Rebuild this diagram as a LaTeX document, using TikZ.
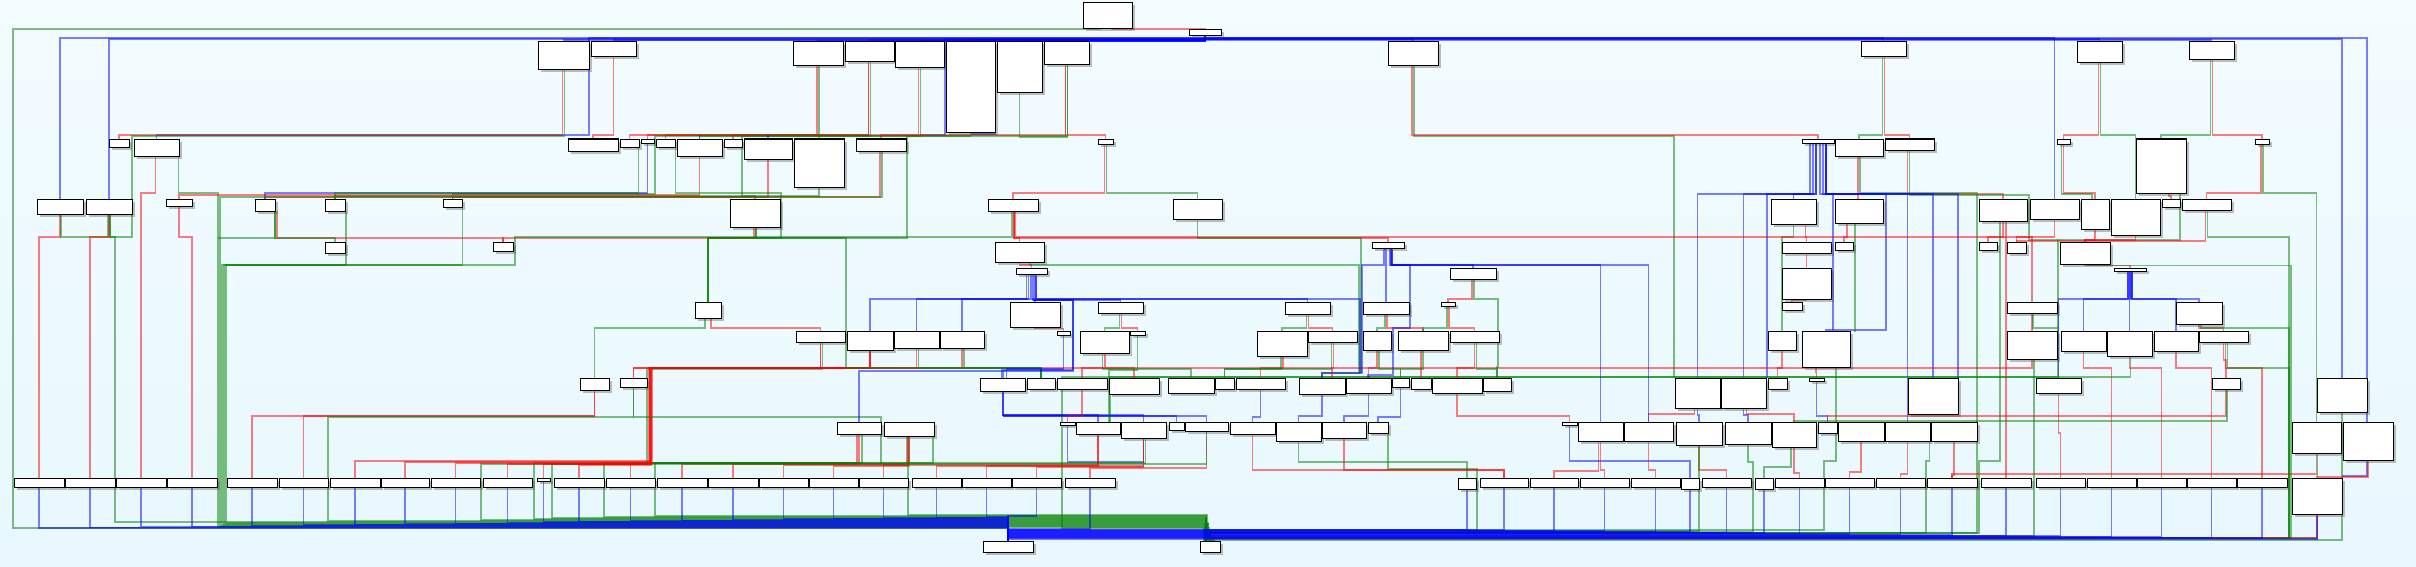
\documentclass[tikz,border=0pt]{standalone}
\usetikzlibrary{shadows}
\pgfdeclarelayer{back}
\pgfdeclarelayer{wires}
\pgfsetlayers{back,wires,main}
\definecolor{bgtop}{RGB}{243,252,255}
\definecolor{bgbot}{RGB}{232,248,254}
\definecolor{gr}{RGB}{0,128,0}
\tikzset{
 wire/.style={line width=1.3pt, draw opacity=0.5},
 rd/.style={wire, draw=red},
 gn/.style={wire, draw=gr},
 bl/.style={wire, draw=blue},
 bxs/.style={draw=black, line width=1pt, fill=white, inner sep=0pt, outer sep=0pt,
   drop shadow={shadow xshift=2.5pt, shadow yshift=-2.5pt, opacity=0.35, fill=black!70}}
}
\newcommand\bx[5]{%
 \pgfmathsetmacro\bxw{#4-#2}\pgfmathsetmacro\bxh{#5-#3}%
 \pgfmathsetmacro\bxx{(#2+#4)/2}\pgfmathsetmacro\bxy{(#3+#5)/2}%
 \node[bxs, minimum width=\bxw pt, minimum height=\bxh pt] (#1) at (\bxx,\bxy) {};}
\begin{document}
\begin{tikzpicture}[x=1pt,y=-1pt]
\useasboundingbox (0,0) rectangle (2416,567);
\begin{pgfonlayer}{back}
\shade[top color=bgtop, bottom color=bgbot] (0,0) rectangle (2416,567);
\end{pgfonlayer}
% ---------- boxes ----------
\bx{A0}{1083}{3}{1132}{29}
\bx{A1}{1189}{30}{1221}{36}
\bx{r1a}{538}{42}{589}{70}
\bx{r1b}{591}{42}{636}{57}
\bx{r1c}{793}{42}{843}{66}
\bx{r1d}{845}{42}{894}{62}
\bx{r1e}{895}{42}{944}{68}
\bx{r1f}{946}{42}{995}{133}
\bx{r1g}{997}{42}{1042}{93}
\bx{r1h}{1044}{42}{1089}{65}
\bx{r1i}{1388}{42}{1438}{66}
\bx{r1j}{1861}{42}{1906}{57}
\bx{r1k}{2077}{42}{2122}{63}
\bx{r1l}{2189}{42}{2234}{60}
\bx{r2a}{109}{139}{129}{147}
\bx{r2b}{134}{139}{179}{156}
\bx{r2c}{568}{139}{618}{151}
\bx{r2d}{620}{139}{639}{147}
\bx{r2e}{641}{139}{654}{143}
\bx{r2f}{656}{139}{675}{147}
\bx{r2g}{677}{139}{722}{156}
\bx{r2h}{724}{139}{742}{147}
\bx{r2i}{744}{139}{792}{159}
\bx{r2j}{794}{139}{844}{187}
\bx{r2k}{856}{139}{906}{151}
\bx{r2l}{1098}{139}{1113}{144}
\bx{r2m}{1802}{139}{1834}{143}
\bx{r2n}{1835}{139}{1883}{156}
\bx{r2o}{1885}{139}{1934}{150}
\bx{r2p}{2057}{139}{2070}{144}
\bx{r2q}{2136}{139}{2186}{193}
\bx{r2r}{2255}{139}{2269}{144}
\bx{r3a}{37}{199}{83}{214}
\bx{r3b}{86}{199}{132}{214}
\bx{r3c}{166}{199}{192}{206}
\bx{r3d}{255}{199}{275}{211}
\bx{r3e}{325}{199}{345}{211}
\bx{r3f}{443}{199}{462}{207}
\bx{r3g}{730}{199}{780}{227}
\bx{r3h}{988}{199}{1038}{211}
\bx{r3i}{1173}{199}{1222}{219}
\bx{r3j}{1771}{199}{1816}{224}
\bx{r3k}{1835}{199}{1883}{223}
\bx{r3l}{1979}{199}{2027}{221}
\bx{r3m}{2030}{199}{2079}{219}
\bx{r3n}{2081}{199}{2109}{229}
\bx{r3o}{2111}{199}{2160}{235}
\bx{r3p}{2162}{199}{2180}{207}
\bx{r3q}{2182}{199}{2231}{210}
\bx{r4a}{325}{242}{345}{253}
\bx{r4b}{493}{242}{513}{251}
\bx{r4c}{995}{242}{1044}{262}
\bx{r4d}{1372}{242}{1404}{248}
\bx{r4e}{1782}{242}{1831}{253}
\bx{r4f}{1835}{242}{1853}{250}
\bx{r4g}{1979}{242}{1997}{250}
\bx{r4h}{2007}{242}{2026}{253}
\bx{r4i}{2060}{242}{2110}{264}
\bx{r5a}{1016}{268}{1047}{274}
\bx{r5b}{1450}{268}{1496}{279}
\bx{r5c}{1782}{268}{1831}{299}
\bx{r5d}{2114}{268}{2146}{271}
\bx{r6a}{695}{302}{721}{318}
\bx{r6b}{1010}{302}{1060}{327}
\bx{r6c}{1098}{302}{1143}{313}
\bx{r6d}{1285}{302}{1330}{314}
\bx{r6e}{1363}{302}{1409}{314}
\bx{r6f}{1441}{302}{1455}{306}
\bx{r6g}{1782}{302}{1802}{310}
\bx{r6h}{2007}{302}{2057}{313}
\bx{r6i}{2176}{302}{2222}{324}
\bx{r7a}{796}{331}{845}{342}
\bx{r7b}{847}{331}{893}{350}
\bx{r7c}{894}{331}{939}{348}
\bx{r7d}{940}{331}{984}{348}
\bx{r7e}{1057}{331}{1070}{335}
\bx{r7f}{1080}{331}{1129}{353}
\bx{r7g}{1130}{331}{1145}{335}
\bx{r7h}{1257}{331}{1307}{356}
\bx{r7i}{1308}{331}{1357}{342}
\bx{r7j}{1363}{331}{1391}{350}
\bx{r7k}{1398}{331}{1448}{350}
\bx{r7l}{1450}{331}{1499}{342}
\bx{r7m}{1768}{331}{1796}{350}
\bx{r7n}{1802}{331}{1850}{367}
\bx{r7o}{2007}{331}{2057}{359}
\bx{r7p}{2061}{331}{2106}{351}
\bx{r7q}{2107}{331}{2152}{356}
\bx{r7r}{2154}{331}{2198}{351}
\bx{r7s}{2199}{331}{2248}{342}
\bx{r8a}{580}{378}{609}{390}
\bx{r8b}{620}{378}{647}{387}
\bx{r8c}{980}{378}{1025}{391}
\bx{r8d}{1027}{378}{1055}{389}
\bx{r8e}{1057}{378}{1107}{389}
\bx{r8f}{1109}{378}{1159}{394}
\bx{r8g}{1168}{378}{1214}{393}
\bx{r8h}{1215}{378}{1234}{389}
\bx{r8i}{1236}{378}{1285}{389}
\bx{r8j}{1299}{378}{1345}{394}
\bx{r8k}{1346}{378}{1391}{393}
\bx{r8l}{1392}{378}{1409}{387}
\bx{r8m}{1411}{378}{1431}{389}
\bx{r8n}{1432}{378}{1482}{393}
\bx{r8o}{1483}{378}{1511}{391}
\bx{r8p}{1675}{378}{1720}{408}
\bx{r8q}{1721}{378}{1766}{408}
\bx{r8r}{1768}{378}{1787}{389}
\bx{r8s}{1809}{378}{1824}{381}
\bx{r8t}{1908}{378}{1958}{414}
\bx{r8u}{2036}{378}{2081}{393}
\bx{r8v}{2212}{378}{2240}{389}
\bx{r8w}{2317}{378}{2367}{412}
\bx{r9a}{837}{422}{881}{434}
\bx{r9b}{884}{422}{934}{436}
\bx{r9c}{1060}{422}{1075}{425}
\bx{r9d}{1076}{422}{1120}{434}
\bx{r9e}{1121}{422}{1166}{438}
\bx{r9f}{1169}{422}{1184}{430}
\bx{r9g}{1185}{422}{1228}{431}
\bx{r9h}{1230}{422}{1275}{434}
\bx{r9i}{1276}{422}{1321}{441}
\bx{r9j}{1322}{422}{1366}{438}
\bx{r9k}{1368}{422}{1388}{433}
\bx{r9l}{1562}{422}{1577}{425}
\bx{r9m}{1578}{422}{1623}{441}
\bx{r9n}{1624}{422}{1673}{441}
\bx{r9o}{1676}{422}{1722}{445}
\bx{r9p}{1725}{422}{1771}{444}
\bx{r9q}{1772}{422}{1816}{447}
\bx{r9r}{1818}{422}{1837}{433}
\bx{r9s}{1838}{422}{1884}{441}
\bx{r9t}{1885}{422}{1930}{441}
\bx{r9u}{1931}{422}{1977}{441}
\bx{r9v}{2292}{422}{2341}{453}
\bx{r9w}{2343}{422}{2393}{460}
\bx{p1}{14}{478}{64}{487}
\bx{p2}{65}{478}{115}{487}
\bx{p3}{116}{478}{166}{487}
\bx{p4}{167}{478}{217}{487}
\bx{p5}{227}{478}{277}{487}
\bx{p6}{279}{478}{328}{487}
\bx{p7}{330}{478}{380}{487}
\bx{p8}{381}{478}{429}{487}
\bx{p9}{431}{478}{480}{487}
\bx{p10}{483}{478}{532}{487}
\bx{p11}{537}{478}{550}{481}
\bx{p12}{554}{478}{604}{487}
\bx{p13}{606}{478}{655}{487}
\bx{p14}{657}{478}{707}{487}
\bx{p15}{708}{478}{758}{487}
\bx{p16}{759}{478}{808}{487}
\bx{p17}{809}{478}{858}{487}
\bx{p18}{859}{478}{908}{487}
\bx{p19}{912}{478}{961}{487}
\bx{p20}{962}{478}{1011}{487}
\bx{p21}{1012}{478}{1061}{487}
\bx{p22}{1065}{478}{1115}{487}
\bx{p23}{1458}{478}{1476}{489}
\bx{p24}{1480}{478}{1528}{487}
\bx{p25}{1530}{478}{1578}{487}
\bx{p26}{1580}{478}{1629}{487}
\bx{p27}{1631}{478}{1680}{487}
\bx{p28}{1681}{478}{1699}{489}
\bx{p29}{1702}{478}{1751}{487}
\bx{p30}{1755}{478}{1773}{489}
\bx{p31}{1775}{478}{1824}{487}
\bx{p32}{1825}{478}{1874}{487}
\bx{p33}{1876}{478}{1925}{487}
\bx{p34}{1927}{478}{1977}{487}
\bx{p35}{1981}{478}{2031}{487}
\bx{p36}{2036}{478}{2085}{487}
\bx{p37}{2087}{478}{2136}{487}
\bx{p38}{2137}{478}{2186}{487}
\bx{p39}{2187}{478}{2236}{487}
\bx{p40}{2237}{478}{2287}{487}
\bx{p41}{2292}{478}{2342}{514}
\bx{bb1}{983}{541}{1033}{552}
\bx{bb2}{1200}{541}{1220}{552}
% ---------- connectors ----------
\begin{pgfonlayer}{wires}
% top
\draw[gn] ([xshift=-7]A0.south) -| (13,528) -| (bb1.north);
\draw[rd] ([xshift=3]A0.south) -| (A1.north);
\draw[bl] (A1.south) -- ++(0,2) -| (r3a.north);
\draw[bl] (A1.south) -- ++(0,3) -| (r3b.north);
\draw[bl] (A1.south) -- ++(0,4) -| (r1a.north);
\draw[bl] (A1.south) -- ++(0,2) -| (589,135) -| (r2b.north);
\draw[bl] (A1.south) -- ++(0,4) -| (r1b.north);
\draw[bl] (A1.south) -- ++(0,5) -| (r1c.north);
\draw[bl] (A1.south) -- ++(0,4) -| (r1d.north);
\draw[bl] (A1.south) -- ++(0,5) -| (r1e.north);
\draw[bl] (A1.south) -- ++(0,4) -| (r1f.north);
\draw[bl] (A1.south) -- ++(0,5) -| (r1g.north);
\draw[bl] (A1.south) -- ++(0,4) -| (r1h.north);
\draw[bl] (A1.south) -- ++(0,3) -| (945,135) -- (920,135);
\draw[bl] (A1.south) -- ++(0,3) -| (995,134) -- (971,134);
\draw[bl] (A1.south) -- ++(0,3) -| (r1i.north);
\draw[bl] (A1.south) -- ++(0,2) -| (r1j.north);
\draw[bl] (A1.south) -- ++(0,3) -| (r1k.north);
\draw[bl] (A1.south) -- ++(0,4) -| (r1l.north);
\draw[bl] (A1.south) -- ++(0,2) -| (r3m.north);
\draw[bl] (A1.south) -- ++(0,3) -| (r8w.north);
\draw[bl] (A1.south) -- ++(0,2) -| (2367,476) -- (2342,476);
% level 1
\draw[rd] ([xshift=-1]r1a.south) -- ++(0,65) -| (r2a.north);
\draw[gn] ([xshift=1]r1a.south) -- ++(0,66) -| (132,237) -| ([xshift=1]r3b.south);
\draw[rd] (r1b.south) -- ++(0,78) -| (r2c.north);
\draw[rd] ([xshift=-1]r1c.south) -- ++(0,69) -| (r2d.north);
\draw[gn] ([xshift=1]r1c.south) -- (r2j.north);
\draw[rd] ([xshift=-1]r1d.south) -- ++(0,73) -| (r2e.north);
\draw[rd] ([xshift=-1]r1d.south) -- ++(0,73) -| (r2f.north);
\draw[gn] ([xshift=1]r1d.south) -- ++(0,74) -| (655,194) -| (r3f.north);
\draw[rd] ([xshift=-1]r1e.south) -- ++(0,67) -| (r2h.north);
\draw[gn] ([xshift=1]r1e.south) -- ++(0,68) -| (907,238) -| (r6a.north);
\draw[gn] (r1f.south) -- ++(0,3) -| (r2g.north);
\draw[gn] (r1g.south) -- ++(0,44) -| ([xshift=1]r1h.south);
\draw[rd] ([xshift=-1]r1h.south) -- ++(0,70) -| (r2l.north);
\draw[rd] ([xshift=-1]r1h.south) -- ++(0,70) -| (r2k.north);
\draw[gn] ([xshift=1]r1h.south) -- ++(0,71) -| (742,196) -| (r3g.north);
\draw[bl] (r2g.north) -- ++(0,-4);
\draw[bl] (r2i.north) -- ++(0,-4);
\draw[gn] ([xshift=1]r1i.south) -- ++(0,70) -| (1674,378);
\draw[rd] ([xshift=-1]r1i.south) -- ++(0,69) -| (r2m.north);
\draw[gn] ([xshift=-1]r1j.south) -- ++(0,78) -| (r2n.north);
\draw[rd] ([xshift=1]r1j.south) -- ++(0,78) -| (r2o.north);
\draw[rd] ([xshift=-1]r1k.south) -- ++(0,72) -| (r2p.north);
\draw[gn] ([xshift=1]r1k.south) -- ++(0,72) -| (r3o.north);
\draw[gn] ([xshift=-1]r1l.south) -- ++(0,75) -| (r2q.north);
\draw[rd] ([xshift=1]r1l.south) -- ++(0,75) -| (r2r.north);
% level 2
\draw[rd] ([xshift=-1]r2b.south) -- ++(0,37) -| (p3.north);
\draw[gn] ([xshift=22]r2b.south) -- ++(0,37) -| (218,527) -| ([xshift=-6]bb2.north);
\draw[rd] (r2g.south) -- ++(0,39) -| (r3c.north);
\draw[bl] (r2e.south) -- ++(0,50) -| (r3d.north);
\draw[gn] ([xshift=9]r2d.south) -- ++(0,46) -| (r3e.north);
\draw[gn] ([xshift=10]r2f.south) -- ++(0,46) -| (781,238) -| (r6a.north);
\draw[rd] (r2i.south) -- ++(0,38) -| (r3f.north);
\draw[gn] (r2j.south) -- ++(0,9) -| (r3e.north);
\draw[rd] ([xshift=-1]r2k.south) -- ++(0,46) -| (r3d.north);
\draw[gn] ([xshift=1]r2k.south) -- ++(0,46) -| (220,526) -| ([xshift=-5]bb2.north);
\draw[rd] ([xshift=-1]r2l.south) -- ++(0,49) -| (r3h.north);
\draw[gn] ([xshift=1]r2l.south) -- ++(0,49) -| (r3i.north);
\draw[rd] ([xshift=-1]r2n.south) -- ([xshift=-1]r3k.north);
\draw[gn] ([xshift=1]r2n.south) -- ++(0,37) -| (1977,533) -| (bb2.north);
\draw[rd] ([xshift=-2]r2o.south) -- ++(0,44) -| (r3l.north);
\draw[gn] (r2o.south) -- ++(0,45) -| (2029,240) -- (2058,240);
\draw[rd] (r2p.south) -- ++(0,49) -| (r3n.north);
\draw[gn] ([xshift=-2]r2p.south) -- ++(0,50) -| ([xshift=-3]r3n.north);
\draw[rd] ([xshift=8]r2q.south) -- ++(0,3) -| (r3p.north);
\draw[gn] ([xshift=19]r2q.south) |- (2058,240) -- (2058,377) -| (1062,528) -| ([xshift=-1]bb2.north);
\draw[rd] ([xshift=-1]r2r.south) -- ++(0,49) -| (r3q.north);
\draw[gn] ([xshift=1]r2r.south) -- ++(0,49) -| (r9v.north);
% r2m fan
\draw[bl] ([xshift=-8]r2m.south) -- ++(0,51) -| (r8p.north);
\draw[bl] ([xshift=-5]r2m.south) -- ++(0,51) -| (r8q.north);
\draw[bl] ([xshift=-2]r2m.south) -- ++(0,51) -| (1767,378);
\draw[bl] ([xshift=-2]r2m.south) -- ++(0,51) -| (r3j.north);
\draw[bl] ([xshift=2]r2m.south) -- ++(0,51) -| (1833,330);
\draw[bl,line width=2pt] ([xshift=5]r2m.south) -- ++(0,51) -| (1886,330) -| (r7n.north);
\draw[bl] ([xshift=8]r2m.south) -- ++(0,51) -| (r9t.north);
\draw[bl] ([xshift=8]r2m.south) -- ++(0,51) -| (r8t.north);
\draw[bl] ([xshift=8]r2m.south) -- ++(0,51) -| (1958,378);
% right middle
\draw[gn] (r3j.south) -- ++(0,13) -| (r7m.north);
\draw[rd] ([xshift=12]r3j.south) -- ++(0,13) -| (r4e.north);
\draw[rd] ([xshift=-12]r3k.south) -- ++(0,14) -| (r4f.north);
\draw[gn] ([xshift=-4]r3k.south) -- ++(0,14) -| (1855,332);
\draw[rd] (r3l.south) -- ++(0,16) -| (r4g.north);
\draw[gn,line width=1.8pt] ([xshift=-3]r3l.south) -- ++(0,20) -- (2000,461) -- (1979,461) -- (1979,533) -| (bb2.north);
\draw[rd] ([xshift=3]r3l.south) -- ++(0,19) -| (p35.north);
\draw[rd] (r3m.south) -- ++(0,18) -| (r4h.north);
\draw[rd] (r3n.south) -- ++(0,11) -| (r4i.north);
\draw[rd] (r3o.south) -- ++(0,5) -| (r4i.north);
\draw[rd] ([xshift=-1]r3q.south) -- ++(0,31) -| (r4h.north);
\draw[gn] ([xshift=1]r3q.south) -- ++(0,27) -| (2289,538) -| ([xshift=2]bb2.north);
\draw[rd] (r4e.south) -- (r5c.north);
\draw[rd] (r5c.south) -- ++(0,1.5) -| (r6g.north);
\draw[rd] (r4i.south) -- ++(0,1.5) -| (r5d.north);
\draw[gn] ([xshift=2]r4i.south) -- ++(0,1.5) -| (2291,538) -| ([xshift=2]bb2.north);
\draw[bl,line width=3pt] (r5d.south) -- ++(0,28);
\draw[bl] ([xshift=-2]r5d.south) -- ++(0,28) -| (r7p.north);
\draw[bl] (r5d.south) -- ++(0,28) -| (r7q.north);
\draw[bl] ([xshift=2]r5d.south) -- ++(0,28) -| (r7r.north);
\draw[bl] ([xshift=2]r5d.south) -- ++(0,28) -| (r6i.north);
\draw[bl] ([xshift=-2]r5d.south) -- ++(0,28) -| (r8u.north);
\draw[rd] (r6h.south) -- (r7o.north);
\draw[gn] ([xshift=1]r6h.south) |- (2058,328);
\draw[rd] (r6i.south) -- ++(0,4) -| (r7s.north);
\draw[gn] ([xshift=2]r6i.south) -- ++(0,4) -| (2289,538);
\draw[rd] (r7m.south) -- ++(0,18) -| (r8r.north);
\draw[rd] ([xshift=-10]r7n.south) -- ++(0,5) -| (r8s.north);
\draw[gn] ([xshift=10]r7n.south) |- (1824,461) -- (1824,530) -| (bb2.north);
\draw[bl] (r8s.south) -- ++(0,35) -| (r9r.north);
\draw[rd] (r7o.south) -- ++(0,9) -| (r8b.north);
\draw[gn,line width=1.8pt] ([xshift=2]r7o.south) -- ++(0,9) -| (2034,536) -| (bb2.north);
\draw[rd] (r8u.south) -- ++(0,40) -| (p36.north);
\draw[rd] (r7p.south) -- ++(0,17) -| (p37.north);
\draw[rd] (r7q.south) -- ++(0,12) -| (p38.north);
\draw[rd] (r7r.south) -- ++(0,17) -| (p39.north);
\draw[rd] ([xshift=2]r7s.south) -- ++(0,26) -| (p40.north);
\draw[rd] (r7s.south) -- ++(0,18) -| (r8v.north);
\draw[gn] ([xshift=4]r7s.south) -- ++(0,26) -| (2289,538);
\draw[rd] (r8v.south) -- ++(0,27) -| (r9r.north);
\draw[gn] ([xshift=1]r8v.south) -- ++(0,32) -| (r9q.north);
\draw[gn,line width=1.5pt] ([xshift=1]r7q.south) -- ++(0,21) -| (1110,422);
\draw[gn] (r8w.south) -- ++(0,128) -| ([xshift=3]bb2.north);
\draw[rd] (r9v.south) -- ++(0,21) -| (p34.north);
\draw[gn] ([xshift=1]r9v.south) -- ++(0,85) -| ([xshift=3]bb2.north);
\draw[rd] (r9w.south) -- ++(0,17) -| (p41.north);
\draw[rd] (p41.south) -- ++(0,24) -| ([xshift=4]bb2.north);
% right row 9
\draw[bl] (r8p.south) -- ++(0,7) -| (r9o.north);
\draw[bl] (r8q.south) -- ++(0,7) -| (r9p.north);
\draw[rd] ([xshift=-3]r8p.south) -- ++(0,6) -| (r9n.north);
\draw[rd] ([xshift=3]r8q.south) -- ++(0,6) -| (r9q.north);
\draw[rd] (r8n.south) -- ++(0,23) -| (r9l.north);
\draw[bl] (r9l.south) -- ++(0,36) -| (p28.north);
\draw[rd] (r9m.south) -- ++(0,29) -| (p26.north);
\draw[rd] ([xshift=-2]r9m.south) -- ++(0,30) -| (p25.north);
\draw[rd] (r9n.south) -- ++(0,29) -| (p27.north);
\draw[rd] (r9o.south) -- ++(0,25) -| (p29.north);
\draw[rd] (r9j.south) -- ++(0,32) -| (p24.north);
\draw[gn] (r9i.south) -- ++(0,21) -| (p23.north);
\draw[rd] (r9s.south) -- ++(0,31) -| (p32.north);
\draw[rd] (r9t.south) -- ++(0,33) -| (p33.north);
\draw[rd] (r9u.south) -- ++(0,34) -| (p34.north);
\draw[rd] (r9q.south) -- ++(0,26) -| (p31.north);
\draw[gn] ([xshift=-3]r9q.south) -- ++(0,20) -| (p30.north);
\draw[gn] ([xshift=10]r9k.south) -- ++(0,36) -| (1477,530) -| (bb2.north);
\draw[gn] (r9o.south) -- (1699,531) -| (bb2.north);
\draw[gn] (r9p.south) -- ++(0,18) -| (1753,532) -| (bb2.north);
\draw[gn] ([xshift=22]r9t.south) |- (1926,461) -- (1926,533) -| (bb2.north);
% middle row 8 -> row 9
\draw[bl] (r8c.south) -- ++(0,24) -| (r9d.north);
\draw[bl] (r8c.south) -- ++(0,24) -| (r9e.north);
\draw[bl] ([xshift=1]r8c.south) -- ++(0,25) -| (r9f.north);
\draw[bl] ([xshift=1]r8c.south) -- ++(0,25) -| (r9g.north);
\draw[rd] (r8e.south) -- ++(0,27) -| (r9c.north);
\draw[bl] (r8i.south) -- ++(0,28) -| (r9h.north);
\draw[bl] (r8j.south) -- ++(0,22) -| (r9i.north);
\draw[bl] (r8k.south) -- ++(0,23) -| (r9j.north);
\draw[bl] (r8l.south) -- ++(0,30) -| (r9k.north);
\draw[bl] (r9c.south) -- ++(0,37) -| (r9e.south);
% row 9 left -> bottom row
\draw[rd] (r9a.south) -- ++(0,29) -| (p13.north);
\draw[rd] ([xshift=-2]r9a.south) -- ++(0,30) -| (p14.north);
\draw[rd] (r9b.south) -- ++(0,28) -| (p15.north);
\draw[rd] ([xshift=-2]r9b.south) -- ++(0,29) -| (p16.north);
\draw[rd] (r9b.south) -- ++(0,30) -| (p17.north);
\draw[rd] (r9d.south) -- ++(0,31) -| (p18.north);
\draw[rd] (r9d.south) -- ++(0,32) -| (p19.north);
\draw[rd] (r9e.south) -- ++(0,28) -| (p20.north);
\draw[rd] (r9e.south) -- ++(0,29) -| (p21.north);
\draw[rd] (r9g.south) -- ++(0,37) -| (p22.north);
\draw[rd] (r9h.south) -- ++(0,36) -| (p24.north);
\draw[gn] ([xshift=3]r9a.south) -- ++(0,29) -| (655,516) -| ([xshift=-4]bb2.north);
\draw[gn] ([xshift=24]r9b.south) -- ++(0,27) -| (604,517) -| ([xshift=-4]bb2.north);
\draw[gn] ([xshift=-1]r9b.south) -- ++(0,29) -| (908,515) -| ([xshift=-3]bb2.north);
\draw[gn] ([xshift=2]r9e.south) -- ++(0,25) -| (534,519) -| ([xshift=-4]bb2.north);
\draw[gn] (r9g.south) -- ++(0,33) -| (552,518) -| ([xshift=-4]bb2.north);
\draw[gn] ([xshift=2]r7a.south) -- ++(0,27) -| (647,464) -| (481,520) -| ([xshift=-4]bb2.north);
% level 5 reds down to bottom row
\draw[rd] (r7a.south) -- ++(0,26) -| (650,461) -| (p7.north);
\draw[rd] (r7b.south) -- ++(0,18) -| (651,462) -| (p8.north);
\draw[rd] (r7c.south) -- ++(0,20) -| (649,463) -| (p9.north);
\draw[rd] (r7d.south) -- ++(0,20) -| (652,464) -| (p10.north);
\draw[rd] (r7a.south) -- ++(0,26) -| (650,464) -| (p11.north);
\draw[rd] (r7b.south) -- ++(0,18) -| (651,465) -| (p12.north);
\draw[rd] (r7b.south) -- ++(0,18) -| (r8b.north);
\draw[gn] ([xshift=2]r7c.south) -- ++(0,20) -| (r8d.north);
\draw[gn] ([xshift=2]r7d.south) -- ++(0,20) -| (r8d.north);
\draw[gn] ([xshift=-3]r6a.south) -- ++(0,10) -| (r8a.north);
\draw[rd] ([xshift=3]r6a.south) -- ++(0,10) -| (r7a.north);
\draw[rd] (r8a.south) -- ++(0,26) -| (p5.north);
\draw[rd] (r8a.south) -- ++(0,26) -| (p6.north);
\draw[gn] (r8b.south) -- ++(0,30) -| (328,521) -| ([xshift=-4]bb2.north);
\draw[gn] (r8b.south) -- ++(0,30) -| (881,463);
% level 3
\draw[rd] ([xshift=12]r3d.south) -- ++(0,27) -| (r4b.north);
\draw[gn] ([xshift=10]r3d.south) -- ++(0,27) -| (r4a.north);
\draw[gn] ([xshift=10]r3d.south) -- ++(0,27) -- (218,238);
\draw[rd] ([xshift=-1]r3g.south) -- ++(0,11) -| (r4b.north);
\draw[gn] ([xshift=1]r3g.south) -- ++(0,11) -| (r6a.north);
\draw[gn] ([xshift=1]r3g.south) -- ++(0,11) -| (846,368) -| (r8d.north);
\draw[gn] ([xshift=-1]r3h.south) -- ++(0,26) -| (515,265) -| (226,523) -| ([xshift=-2]bb2.north);
\draw[rd] ([xshift=1]r3h.south) -- ++(0,27) -| (r4c.north);
\draw[rd] ([xshift=1]r3h.south) -- ++(0,27) -| (r4d.north);
\draw[rd] ([xshift=2]r3h.south) -- ++(0,26) -| (r6h.north);
\draw[gn] (r3i.south) -- ++(0,19) -| (1361,373);
\draw[gn] ([xshift=11]r3e.south) -- ++(0,54) -| (222,525) -| ([xshift=-3]bb2.north);
\draw[gn] ([xshift=10]r3f.south) -- ++(0,58) -| (224,524) -| ([xshift=-2]bb2.north);
% r4c / r5a
\draw[rd] (r4c.south) -- ++(0,3) -| (r5a.north);
\draw[gn] ([xshift=10]r4c.south) -- ++(0,3) -| (1359,373) -| (r8j.north);
\draw[bl] ([xshift=-5]r5a.south) -- ++(0,25) -| (r7b.north);
\draw[bl] ([xshift=-3]r5a.south) -- ++(0,25) -| (r7c.north);
\draw[bl] ([xshift=-1]r5a.south) -- ++(0,25) -| (r7d.north);
\draw[bl] ([xshift=1]r5a.south) -- ++(0,26) -| (r6c.north);
\draw[bl,line width=2.4pt] ([xshift=3]r5a.south) -- ++(0,26) -| (1073,370) -| (r8c.north);
\draw[bl] ([xshift=4]r5a.south) -- ++(0,26) -| (1073,371) -| (r9a.north);
\draw[bl] ([xshift=5]r5a.south) -- ++(0,25) -| (r6d.north);
\draw[bl] ([xshift=5]r5a.south) -- ++(0,25) -| (1360,373);
\draw[bl] (r5a.south) -- ++(0,25) -| (r6b.north);
\draw[rd] (r6b.south) -- ++(0,1.5) -| (r7e.north);
\draw[bl] (r7e.south) -- ++(0,34) -| ([xshift=4]r8c.north);
\draw[gn] ([xshift=-1]r6c.south) -- ++(0,15) -| (r7f.north);
\draw[rd] ([xshift=1]r6c.south) -- ++(0,15) -| (r7g.north);
\draw[rd] (r7f.south) -- ++(0,15) -| (r8e.north);
\draw[rd] ([xshift=1]r7f.south) -- ++(0,15) -| (r8f.north);
\draw[gn] ([xshift=-2]r7f.south) -- ++(0,16) -| (r8g.north);
\draw[gn] (r7g.south) -- ++(0,35) -| (1109,415) -- (1109,422);
% r6d..r6f, r5b, r4d
\draw[gn] ([xshift=-1]r6d.south) -- ++(0,14) -| (r7h.north);
\draw[rd] ([xshift=1]r6d.south) -- ++(0,14) -| (r7i.north);
\draw[gn] ([xshift=-1]r6e.south) -- ++(0,14) -| (r7j.north);
\draw[rd] ([xshift=1]r6e.south) -- ++(0,14) -| (r7k.north);
\draw[gn] ([xshift=-1]r6f.south) -- ++(0,22) -| (r7k.north);
\draw[rd] ([xshift=1]r6f.south) -- ++(0,22) -| (r7l.north);
\draw[rd] ([xshift=-1]r5b.south) -- ++(0,20) -| (r6f.north);
\draw[gn] ([xshift=1]r5b.south) -- ++(0,20) -| (1498,367) -| (r8o.north);
\draw[bl] ([xshift=-4]r4d.south) -- ++(0,17) -| (1362,373) -| (r8j.north);
\draw[bl] ([xshift=-2]r4d.south) -- ++(0,17) -| (r6e.north);
\draw[bl,line width=2.4pt] ([xshift=2]r4d.south) -- ++(0,17) -| (1410,328) -| (1393,375) -| (r8k.north);
\draw[bl] ([xshift=3]r4d.south) -- ++(0,17) -| (r5b.north);
\draw[bl] ([xshift=4]r4d.south) -- ++(0,17) -| (r9m.north);
\draw[bl] ([xshift=4]r4d.south) -- ++(0,17) -| (r9n.north);
% row 7 middle -> row 8
\draw[rd] ([xshift=1]r7h.south) -- ++(0,12) -| (r8i.north);
\draw[gn] ([xshift=-1]r7h.south) -- ++(0,13) -| (r8h.north);
\draw[rd] ([xshift=1]r7i.south) -- ++(0,26) -| ([xshift=10]r8j.north);
\draw[gn] ([xshift=-1]r7i.south) -- ++(0,27) -| (r8h.north);
\draw[rd] (r7j.south) -- ++(0,18) -| (r8k.north);
\draw[gn] ([xshift=2]r7j.south) -- ++(0,19) -| (r8l.north);
\draw[rd] ([xshift=-2]r7k.south) -- ++(0,18) -| (r8m.north);
\draw[gn] (r7k.south) -- ++(0,19) -| (r8l.north);
\draw[rd] (r7l.south) -- ++(0,26) -| (r8n.north);
\draw[gn] ([xshift=2]r7l.south) -- ++(0,27) -| (r8o.north);
% far left
\draw[rd] (r3a.south) -- ++(0,23) -| (p1.north);
\draw[gn] ([xshift=1]r3a.south) -- ++(0,23) -| ([xshift=-1]r3b.south);
\draw[rd] (r3b.south) -- ++(0,23) -| (p2.north);
\draw[gn] ([xshift=1]r3b.south) -- ++(0,23) -| (115,522) -| ([xshift=-5]bb2.north);
\draw[rd] (r3c.south) -- ++(0,31) -| (p4.north);
% bottom buses
\foreach \n/\d in {p1/41,p2/40.4,p3/39.8,p4/39.2,p5/38.6,p6/38,p7/37.4,p8/36.8,p9/36.2,p10/35.6,p11/41,p12/34.4,p13/33.8,p14/33.2,p15/32.6,p16/32,p17/31.4,p18/30.8,p19/30.2,p20/29.6,p21/29}
  {\draw[bl] (\n.south) -- ++(0,\d) -| (bb1.north);}
\foreach \n/\d in {p22/42,p23/40.5,p24/43,p25/43.5,p26/44,p27/44.5,p28/43,p29/45.5,p30/44,p31/46.5,p32/47,p33/47.5,p34/48,p35/48.5,p36/49,p37/49.5,p38/50,p39/50.5,p40/51,p41/25}
  {\draw[bl] (\n.south) -- ++(0,\d) -| (bb1.north);}
\end{pgfonlayer}
\end{tikzpicture}
\end{document}
